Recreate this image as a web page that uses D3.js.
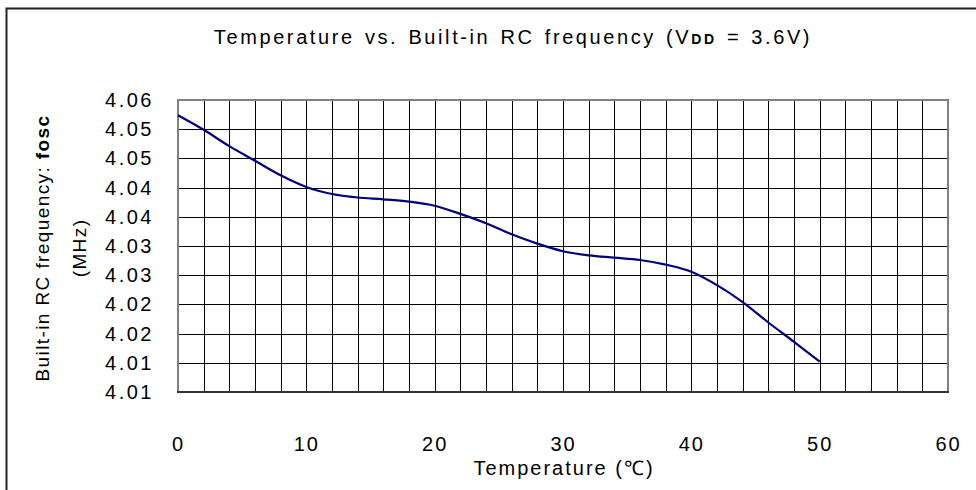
<html>

<head>
  <script src="https://d3js.org/d3.v7.min.js"></script>
  <style>
    body { margin: 0; background: #fff; }
    text { font-family: "Liberation Sans", Arial, sans-serif; fill: #000; }
    .grid line { stroke: #000; stroke-width: 1px; shape-rendering: crispEdges; }
  </style>
</head>

<body>
  <svg id="chart" width="976" height="490"></svg>
  <script>
    // temperature (deg C) and built-in RC frequency (MHz)
    const temps = [0, 2, 4, 6, 8, 10, 12, 14, 16, 18, 20, 22, 24, 26, 28, 30, 32, 34, 36, 38, 40, 42, 44, 46, 48, 50];
    const freqs = [4.0524, 4.0499, 4.0471, 4.0446, 4.0421, 4.0401, 4.0389, 4.0383, 4.0380, 4.0376, 4.0369, 4.0355,
      4.0339, 4.0320, 4.0304, 4.0291, 4.0284, 4.0280, 4.0276, 4.0268, 4.0256, 4.0233, 4.0204, 4.0169, 4.0136, 4.0102];
    const xTicks = [0, 10, 20, 30, 40, 50, 60];
    const yTicks = [4.055, 4.05, 4.045, 4.04, 4.035, 4.03, 4.025, 4.02, 4.015, 4.01, 4.005];

    const svg = d3.select('svg#chart');
    const m = { left: 178, right: 948, top: 100, bottom: 392 };

    const x = d3.scaleLinear().domain([0, 60]).range([m.left, m.right]);
    const y = d3.scaleLinear().domain([4.005, 4.055]).range([m.bottom, m.top]);

    // labels are rounded half-up to 2 decimals, like the original sheet
    const fmtY = d => (Math.round(d * 100 + 1e-6) / 100).toFixed(2);

    // outer frame (only top and left edges are visible in the picture)
    svg.append('path')
      .attr('d', 'M6.5,490 V8.5 H976')
      .attr('fill', 'none')
      .attr('stroke', '#222')
      .attr('stroke-width', 2);

    // grid: vertical every 2 deg, horizontal every 0.005
    const grid = svg.append('g').attr('class', 'grid');
    grid.selectAll('line.v')
      .data(d3.range(2, 60, 2))
      .join('line')
      .attr('class', 'v')
      .attr('x1', d => Math.round(x(d)) + 0.5).attr('x2', d => Math.round(x(d)) + 0.5)
      .attr('y1', m.top).attr('y2', m.bottom);
    grid.selectAll('line.h')
      .data(yTicks.slice(1, -1))
      .join('line')
      .attr('class', 'h')
      .attr('x1', m.left).attr('x2', m.right)
      .attr('y1', d => Math.round(y(d)) + 0.5).attr('y2', d => Math.round(y(d)) + 0.5);

    // plot border
    svg.append('rect')
      .attr('x', m.left).attr('y', m.top)
      .attr('width', m.right - m.left).attr('height', m.bottom - m.top)
      .attr('fill', 'none')
      .attr('stroke', '#808080')
      .attr('stroke-width', 2);
    svg.append('line')
      .attr('x1', m.left - 1).attr('x2', m.right + 1)
      .attr('y1', m.bottom).attr('y2', m.bottom)
      .attr('stroke', '#333').attr('stroke-width', 2);

    // axes labels via d3 axes, lines hidden
    const yAxis = svg.append('g')
      .attr('transform', `translate(${m.left},0)`)
      .call(d3.axisLeft(y).tickValues(yTicks).tickFormat(fmtY).tickSize(0).tickPadding(24));
    yAxis.select('.domain').remove();
    yAxis.selectAll('text')
      .attr('font-family', '"Liberation Sans", Arial, sans-serif')
      .attr('font-size', 20)
      .attr('letter-spacing', 2.5)
      .attr('fill', '#000');

    const xAxis = svg.append('g')
      .attr('transform', `translate(0,${m.bottom})`)
      .call(d3.axisBottom(x).tickValues(xTicks).tickFormat(d3.format('d')).tickSize(0).tickPadding(45));
    xAxis.select('.domain').remove();
    xAxis.selectAll('text')
      .attr('font-family', '"Liberation Sans", Arial, sans-serif')
      .attr('font-size', 20)
      .attr('letter-spacing', 2)
      .attr('fill', '#000');

    // curve
    const line = d3.line()
      .x(d => x(d[0]))
      .y(d => y(d[1]))
      .curve(d3.curveMonotoneX);
    svg.append('path')
      .datum(d3.zip(temps, freqs))
      .attr('d', line)
      .attr('fill', 'none')
      .attr('stroke', '#000080')
      .attr('stroke-width', 2.2);

    // title
    const title = svg.append('text')
      .attr('x', 513).attr('y', 44)
      .attr('text-anchor', 'middle')
      .attr('font-size', 20)
      .attr('letter-spacing', 2.6)
      .attr('word-spacing', 2);
    title.append('tspan').text('Temperature vs. Built-in RC frequency (V');
    title.append('tspan').attr('font-size', 14).attr('font-weight', 'bold').text('DD');
    title.append('tspan').text(' = 3.6V)');

    // x axis title
    svg.append('text')
      .attr('x', 564).attr('y', 475)
      .attr('text-anchor', 'middle')
      .attr('font-size', 20)
      .attr('letter-spacing', 2)
      .text('Temperature (℃)');

    // y axis title (two lines)
    const yt = svg.append('text')
      .attr('transform', 'translate(49,248) rotate(-90)')
      .attr('text-anchor', 'middle')
      .attr('font-size', 19)
      .attr('letter-spacing', 1.4);
    yt.append('tspan').text('Built-in RC frequency: ');
    yt.append('tspan').attr('font-weight', 'bold').text('fosc');
    svg.append('text')
      .attr('transform', 'translate(86,248) rotate(-90)')
      .attr('text-anchor', 'middle')
      .attr('font-size', 19)
      .attr('letter-spacing', 1.4)
      .text('(MHz)');
  </script>
</body>

</html>
